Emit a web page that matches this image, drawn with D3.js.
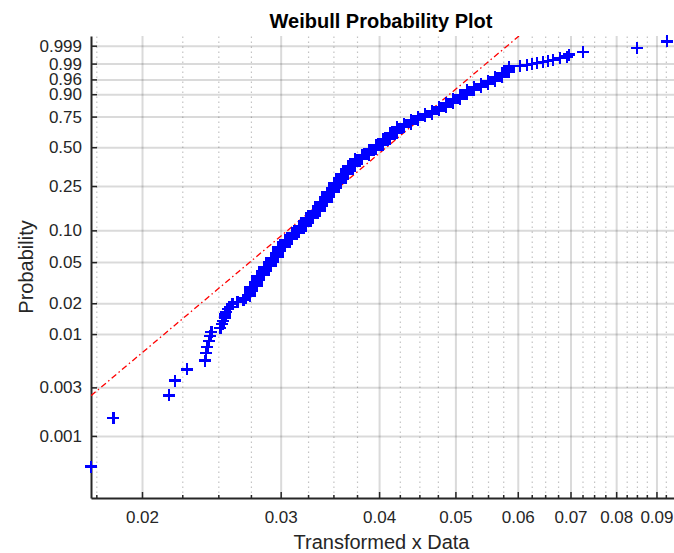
<!DOCTYPE html>
<html>
<head>
<meta charset="utf-8">
<script src="https://cdn.jsdelivr.net/npm/d3@7"></script>
<style>
body { margin: 0; background: #fff; }
svg { font-family: "Liberation Sans", Arial, Helvetica, sans-serif; }
</style>
</head>
<body>
<svg width="674" height="553"></svg>
<script>
// observed values (sorted) and how many observations share each value
var xValues = [0.017218, 0.018398, 0.021618, 0.022002, 0.022817, 0.024040, 0.024111, 0.024217, 0.024324, 0.024432,
    0.024503, 0.025159, 0.025307, 0.025381, 0.025456, 0.025530, 0.025605, 0.025681, 0.025832, 0.026060,
    0.026445, 0.026915, 0.027065,
    0.027428, 0.027995, 0.028574, 0.029165, 0.029768, 0.030383, 0.031011, 0.031652, 0.032306, 0.032974,
    0.033656, 0.034352, 0.035062, 0.035787, 0.036527, 0.037282, 0.038053, 0.038840, 0.039643, 0.040463,
    0.041300, 0.042154, 0.043026, 0.043916, 0.044824, 0.045751, 0.046697, 0.047663, 0.048648, 0.049654,
    0.050681, 0.051729, 0.052799, 0.053891, 0.055005, 0.056142, 0.057303, 0.058488,
    0.060390, 0.061586, 0.062492, 0.063412, 0.064648, 0.065600, 0.066450, 0.067884, 0.069226, 0.069754,
    0.072668, 0.084950, 0.092734];
var counts = [1, 1, 1, 1, 1, 1, 1, 1, 1, 1,
    1, 1, 1, 1, 1, 1, 1, 1, 1, 1,
    1, 1, 1,
    6, 8, 8, 10, 15, 12, 13, 15, 20, 21,
    32, 37, 43, 51, 49, 46, 33, 40, 38, 48,
    48, 46, 30, 31, 28, 22, 23, 25, 26, 26,
    25, 23, 12, 11, 12, 11, 10, 10,
    1, 1, 1, 1, 1, 1, 1, 1, 1, 1,
    1, 1, 1];

// fitted weibull reference line
var wblScale = 0.043265,
    wblShape = 6.5125;

// axes limits and ticks
var xLimits = [0.01723, 0.09529];
var pLimits = [0.000245, 0.999817];
var xMajor = [0.02, 0.03, 0.04, 0.05, 0.06, 0.07, 0.08, 0.09];
var xMinor = [0.0175, 0.0225, 0.025, 0.0275, 0.0325, 0.035, 0.0375, 0.0425, 0.045, 0.0475,
    0.0525, 0.055, 0.0575, 0.0625, 0.065, 0.0675, 0.0725, 0.075, 0.0775, 0.0825, 0.085, 0.0875, 0.0925];
var yTicks = [0.001, 0.003, 0.01, 0.02, 0.05, 0.10, 0.25, 0.50, 0.75, 0.90, 0.96, 0.99, 0.999];
var yTickLabels = ["0.001", "0.003", "0.01", "0.02", "0.05", "0.10", "0.25", "0.50", "0.75", "0.90", "0.96", "0.99", "0.999"];

var svg = d3.select("svg"),
    width = +svg.attr("width"),
    height = +svg.attr("height");

var plotLeft = 91, plotRight = 676, plotTop = 36, plotBottom = 498;
var ink = "#262626";

function wbl(p) { return Math.log(-Math.log(1 - p)); }

var x = d3.scaleLog().domain(xLimits).range([plotLeft, plotRight]);
var y = d3.scaleLinear().domain(pLimits.map(wbl)).range([plotBottom, plotTop]);

svg.append("defs").append("clipPath").attr("id", "plotclip")
    .append("rect")
    .attr("x", plotLeft).attr("y", plotTop)
    .attr("width", plotRight - plotLeft).attr("height", plotBottom - plotTop);

// grid
svg.append("g")
    .attr("transform", "translate(0," + plotBottom + ")")
    .call(d3.axisBottom(x).tickValues(xMinor).tickSize(-(plotBottom - plotTop)).tickFormat(""))
    .call(function(g) { g.select(".domain").remove(); })
    .selectAll("line")
    .attr("stroke", "rgba(38,38,38,0.28)")
    .attr("stroke-width", 1.2)
    .attr("stroke-dasharray", "1.5,3.5");

svg.append("g")
    .attr("transform", "translate(0," + plotBottom + ")")
    .call(d3.axisBottom(x).tickValues(xMajor).tickSize(-(plotBottom - plotTop)).tickFormat(""))
    .call(function(g) { g.select(".domain").remove(); })
    .selectAll("line")
    .attr("stroke", "rgba(38,38,38,0.17)")
    .attr("stroke-width", 2);

svg.append("g")
    .attr("transform", "translate(" + plotLeft + ",0)")
    .call(d3.axisLeft(y).tickValues(yTicks.map(wbl)).tickSize(-(plotRight - plotLeft)).tickFormat(""))
    .call(function(g) { g.select(".domain").remove(); })
    .selectAll("line")
    .attr("stroke", "rgba(38,38,38,0.17)")
    .attr("stroke-width", 2);

// axes
var xAxis = svg.append("g")
    .attr("transform", "translate(0," + plotBottom + ")")
    .call(d3.axisBottom(x).tickValues(xMajor).tickSizeInner(-6).tickSizeOuter(0)
        .tickPadding(13).tickFormat(d3.format(".2f")));

svg.append("g")
    .attr("transform", "translate(0," + plotBottom + ")")
    .call(d3.axisBottom(x).tickValues(xMinor).tickSizeInner(-3).tickSizeOuter(0).tickFormat(""))
    .call(function(g) { g.select(".domain").remove(); })
    .selectAll("line")
    .attr("stroke", ink)
    .attr("stroke-width", 1.5);

var yAxis = svg.append("g")
    .attr("transform", "translate(" + plotLeft + ",0)")
    .call(d3.axisLeft(y).tickValues(yTicks.map(wbl)).tickSizeInner(-6).tickSizeOuter(0)
        .tickPadding(9).tickFormat(function(d, i) { return yTickLabels[i]; }));

[xAxis, yAxis].forEach(function(g) {
    g.attr("font-size", 17).attr("font-family", null);
    g.select(".domain").attr("stroke", ink).attr("stroke-width", 2);
    g.selectAll(".tick line").attr("stroke", ink).attr("stroke-width", 1.5);
    g.selectAll(".tick text").attr("fill", ink);
});

// reference line
var lnA = Math.log(wblScale);
var xEnd = Math.exp(lnA + y.domain()[1] / wblShape);
var fit = [xLimits[0], xEnd].map(function(v) {
    return { x: v, w: wblShape * (Math.log(v) - lnA) };
});

svg.append("path")
    .datum(fit)
    .attr("clip-path", "url(#plotclip)")
    .attr("fill", "none")
    .attr("stroke", "#ff0000")
    .attr("stroke-width", 1.3)
    .attr("stroke-dasharray", "6,3,1.5,3")
    .attr("d", d3.line()
        .x(function(d) { return x(d.x); })
        .y(function(d) { return y(d.w); }));

// data markers, plotting position (i - 0.5) / n
var nSample = d3.sum(counts);
var points = [];
var rank = 0;
xValues.forEach(function(v, k) {
    for (var c = 0; c < counts[k]; c++) {
        rank += 1;
        points.push({ x: v, p: (rank - 0.5) / nSample });
    }
});

svg.append("g")
    .attr("shape-rendering", "crispEdges")
    .selectAll("path")
    .data(points)
    .enter().append("path")
    .attr("d", "M-6,0H6M0,-6V6")
    .attr("transform", function(d) { return "translate(" + x(d.x) + "," + y(wbl(d.p)) + ")"; })
    .attr("fill", "none")
    .attr("stroke", "#0000ff")
    .attr("stroke-width", 2.2);

// labels
svg.append("text")
    .attr("x", 381).attr("y", 28)
    .attr("text-anchor", "middle")
    .attr("font-size", 20)
    .attr("font-weight", "bold")
    .attr("fill", "#000")
    .text("Weibull Probability Plot");

svg.append("text")
    .attr("x", 381.5).attr("y", 549)
    .attr("text-anchor", "middle")
    .attr("font-size", 20)
    .attr("fill", ink)
    .text("Transformed x Data");

svg.append("text")
    .attr("transform", "translate(33," + ((plotTop + plotBottom) / 2) + ") rotate(-90)")
    .attr("text-anchor", "middle")
    .attr("font-size", 20)
    .attr("fill", ink)
    .text("Probability");
</script>
</body>
</html>
